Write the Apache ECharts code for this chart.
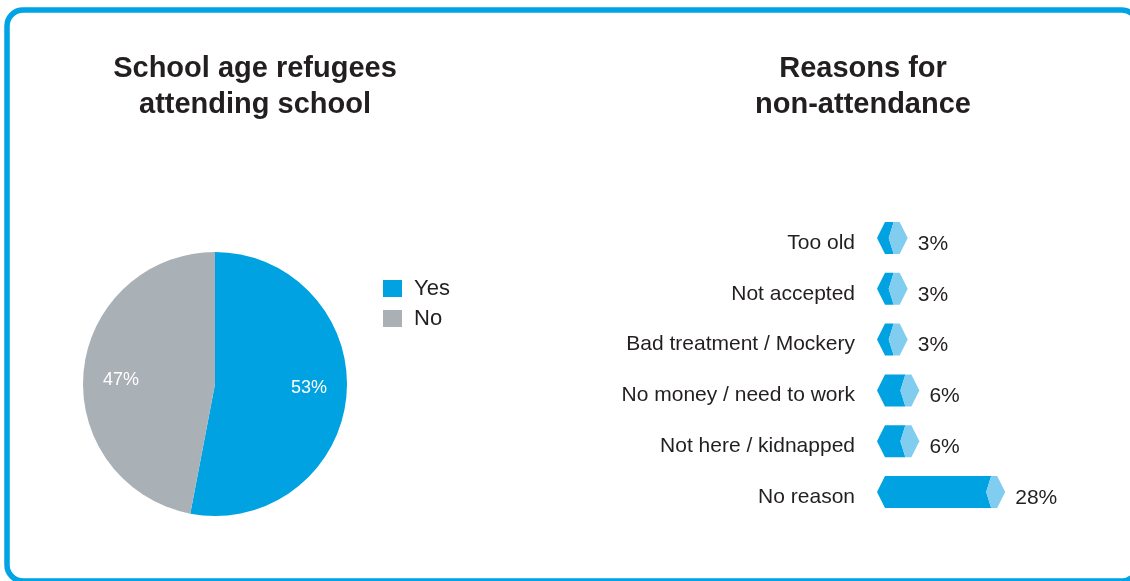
<!DOCTYPE html>
<html>
<head>
<meta charset="utf-8">
<script src="https://cdn.jsdelivr.net/npm/echarts@6/dist/echarts.min.js"></script>
<style>
  html, body { margin: 0; padding: 0; background: #ffffff; }
  #chart { width: 1130px; height: 581px; }
</style>
</head>
<body>
<div id="chart"></div>
<script>
// Attendance split
const attendanceLabels = ['Yes', 'No'];
const attendanceValues = [53, 47];

// Reasons for non-attendance (percent)
const reasonLabels = [
  'Too old',
  'Not accepted',
  'Bad treatment / Mockery',
  'No money / need to work',
  'Not here / kidnapped',
  'No reason'
];
const reasonValues = [3, 3, 3, 6, 6, 28];

const BLUE = '#00a2e2';
const LIGHT_BLUE = '#80cdf0';
const GREY = '#a9b0b6';
const INK = '#231f20';
const FONT = 'Liberation Sans';

const chart = echarts.init(document.getElementById('chart'), null, { renderer: 'canvas' });

const pieData = attendanceLabels.map((name, i) => ({ name, value: attendanceValues[i] }));
const barData = reasonValues.map((v, i) => [v, i]);

// Hexagonal prism bar: dark chevron body plus a light end cap
const CAP = 19;
function renderPrism(params, api) {
  const idx = api.value(1);
  const v = api.value(0);
  const start = api.coord([0, idx]);
  const end = api.coord([v, idx]);
  const band = api.size([0, 1])[1];
  const h = band * 0.63;
  const yc = start[1];
  const top = yc - h / 2;
  const bot = yc + h / 2;
  const L = start[0];
  const R = end[0] + CAP;
  return {
    type: 'group',
    children: [
      {
        type: 'polygon',
        shape: { points: [[L, yc], [L + 8, top], [R - 14, top], [R - 19, yc], [R - 14, bot], [L + 8, bot]] },
        style: { fill: BLUE }
      },
      {
        type: 'polygon',
        shape: { points: [[R - 14, top], [R - 8, top], [R, yc], [R - 8, bot], [R - 14, bot], [R - 19, yc]] },
        style: { fill: LIGHT_BLUE }
      },
      {
        type: 'text',
        style: {
          text: v + '%',
          x: R + 10,
          y: yc + 6,
          verticalAlign: 'middle',
          align: 'left',
          fontSize: 21,
          fontFamily: FONT,
          fill: INK
        }
      }
    ]
  };
}

chart.setOption({
  backgroundColor: '#ffffff',
  animation: false,
  title: [
    {
      text: 'School age refugees\nattending school',
      left: 250,
      top: 46,
      textAlign: 'center',
      textStyle: { fontSize: 29, fontWeight: 'bold', color: INK, fontFamily: FONT, lineHeight: 36 }
    },
    {
      text: 'Reasons for\nnon-attendance',
      left: 858,
      top: 46,
      textAlign: 'center',
      textStyle: { fontSize: 29, fontWeight: 'bold', color: INK, fontFamily: FONT, lineHeight: 36 }
    }
  ],
  legend: {
    data: attendanceLabels,
    orient: 'vertical',
    left: 383,
    top: 277.5,
    padding: 0,
    icon: 'rect',
    itemWidth: 19,
    itemHeight: 17,
    itemGap: 8,
    textStyle: { fontSize: 22, color: INK, fontFamily: FONT, padding: [0, 0, 0, 7] },
    selectedMode: false
  },
  color: [BLUE, GREY],
  grid: { left: 877, right: 97, top: 212.5, height: 305, containLabel: false },
  xAxis: {
    type: 'value',
    min: 0,
    max: 40,
    show: false
  },
  yAxis: {
    type: 'category',
    data: reasonLabels,
    inverse: true,
    axisLine: { show: false },
    axisTick: { show: false },
    splitLine: { show: false },
    axisLabel: {
      margin: 22,
      fontSize: 21,
      color: INK,
      fontFamily: FONT,
      verticalAlign: 'top',
      lineHeight: 10
    }
  },
  series: [
    {
      type: 'pie',
      center: [215, 384],
      radius: 132,
      startAngle: 90,
      clockwise: true,
      silent: true,
      label: { show: false },
      labelLine: { show: false },
      itemStyle: { borderWidth: 0 },
      data: pieData
    },
    {
      // transparent ring that only places the percentage labels
      type: 'pie',
      center: [215, 384],
      radius: [50, 132],
      startAngle: 93,
      clockwise: true,
      silent: true,
      itemStyle: { color: 'rgba(0,0,0,0)' },
      label: {
        show: true,
        position: 'inside',
        formatter: '{c}%',
        color: '#ffffff',
        fontSize: 18,
        fontFamily: FONT
      },
      labelLine: { show: false },
      data: pieData
    },
    {
      type: 'custom',
      renderItem: renderPrism,
      encode: { x: 0, y: 1 },
      data: barData,
      silent: true
    }
  ],
  graphic: [
    {
      type: 'rect',
      shape: { x: 7, y: 10, width: 1131, height: 571, r: 16 },
      style: { fill: 'none', stroke: '#00a3e4', lineWidth: 5.5 },
      silent: true,
      z: 100
    }
  ]
});
</script>
</body>
</html>
